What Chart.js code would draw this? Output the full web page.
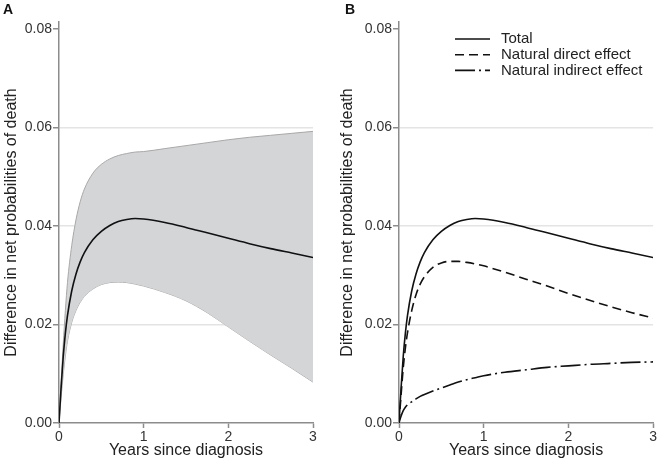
<!DOCTYPE html>
<html>
<head>
<meta charset="utf-8">
<title>Net probabilities of death</title>
<script src="https://cdn.jsdelivr.net/npm/chart.js@4.4.0/dist/chart.umd.min.js"></script>
<style>
	body { margin: 0; background: #fff; }
	#wrap { position: relative; width: 658px; height: 462px; overflow: hidden; }
	.panel { position: absolute; top: 0; width: 329px; height: 462px; }
	.lbl { position: absolute; top: 1px; font: bold 14px 'Liberation Sans', Arial, sans-serif; color: #111; }
</style>
</head>
<body>
<div id="wrap">
	<div class="panel" style="left:0"><canvas id="chartA" width="329" height="462"></canvas></div>
	<div class="panel" style="left:329px"><canvas id="chartB" width="329" height="462"></canvas></div>
	<div class="lbl" style="left:3px">A</div>
	<div class="lbl" style="left:345px">B</div>
</div>
<script>
// values
var years    = [0, 0.025, 0.05, 0.075, 0.1, 0.15, 0.2, 0.25, 0.3, 0.4, 0.5, 0.6, 0.7, 0.8, 0.9, 1.0, 1.25, 1.5, 1.75, 2.0, 2.25, 2.5, 2.75, 3.0];
var total    = [0, 0.0072, 0.0135, 0.0182, 0.0218, 0.0268, 0.0302, 0.0327, 0.0346, 0.0372, 0.0389, 0.0401, 0.0409, 0.0413, 0.0415, 0.0414, 0.0407, 0.0397, 0.0386, 0.0375, 0.0364, 0.0354, 0.0345, 0.0336];
var direct   = [0, 0.0058, 0.0112, 0.0152, 0.0183, 0.0228, 0.0260, 0.0282, 0.0297, 0.0316, 0.0325, 0.0328, 0.0328, 0.0326, 0.0323, 0.0319, 0.0306, 0.0292, 0.0278, 0.0263, 0.0249, 0.0236, 0.0224, 0.0213];
var indirect = [0, 0.0014, 0.0025, 0.0032, 0.0037, 0.0043, 0.0049, 0.0054, 0.0058, 0.0065, 0.0071, 0.0077, 0.0083, 0.0088, 0.0092, 0.0096, 0.0103, 0.0108, 0.0113, 0.0116, 0.0119, 0.0121, 0.0123, 0.0124];
var ciLower  = [0, 0.0052, 0.0098, 0.0136, 0.0166, 0.0204, 0.0228, 0.0245, 0.0257, 0.0272, 0.0281, 0.0285, 0.0286, 0.0285, 0.0282, 0.0278, 0.0265, 0.0248, 0.0224, 0.0195, 0.0166, 0.0138, 0.0111, 0.0083];
var ciUpper  = [0, 0.0085, 0.0160, 0.0228, 0.0285, 0.0360, 0.0412, 0.0449, 0.0475, 0.0507, 0.0525, 0.0536, 0.0543, 0.0547, 0.0550, 0.0551, 0.0557, 0.0563, 0.0569, 0.0575, 0.0580, 0.0584, 0.0588, 0.0592];

var yTicks = [0, 0.02, 0.04, 0.06, 0.08];
var xTicks = [0, 1, 2, 3];
var seriesLabels = ['Total', 'Natural direct effect', 'Natural indirect effect'];
var yTitle = 'Difference in net probabilities of death';
var xTitle = 'Years since diagnosis';

Chart.defaults.font.family = "'Liberation Sans', Arial, sans-serif";
Chart.defaults.animation = false;

var axisGray = '#8c8c8c';

function pts(vals){
	return years.map(function(t, i){ return {x: t, y: vals[i]}; });
}

function makeScales(yWidth){
	return {
		x: {
			type: 'linear', min: 0, max: 3,
			afterBuildTicks: function(s){ s.ticks = xTicks.map(function(v){ return {value: v}; }); },
			afterFit: function(s){ s.height = 39; },
			grid: { drawOnChartArea: false, drawTicks: true, tickLength: 5, tickColor: axisGray, tickWidth: 1.5 },
			border: { display: true, color: axisGray, width: 1.5 },
			ticks: { padding: 1, color: '#333', font: { size: 14 }, maxRotation: 0 },
			title: { display: true, text: xTitle, color: '#222', font: { size: 16 }, padding: { top: 0, bottom: 2 } }
		},
		y: {
			type: 'linear', min: 0, max: 0.0814,
			afterBuildTicks: function(s){ s.ticks = yTicks.map(function(v){ return {value: v}; }); },
			afterFit: function(s){ s.width = yWidth; },
			grid: {
				color: function(c){
					var v = c.tick ? c.tick.value : 0;
					return (v === 0 || v === yTicks[yTicks.length - 1]) ? 'rgba(0,0,0,0)' : '#e4e4e4';
				},
				lineWidth: 1.5, tickLength: 6, tickColor: axisGray, tickWidth: 1.5
			},
			border: { display: true, color: axisGray, width: 1.5 },
			ticks: { padding: 1, color: '#333', font: { size: 14 }, callback: function(v){ return v.toFixed(2); } },
			title: { display: true, text: yTitle, color: '#222', font: { size: 16 }, padding: { top: 2, bottom: 0 } }
		}
	};
}

// legend drawn by hand (line sample + label)
var lineLegend = {
	id: 'lineLegend',
	afterDraw: function(chart, args, opts){
		if(!opts || !opts.show) return;
		var ctx = chart.ctx;
		ctx.save();
		ctx.font = "15px 'Liberation Sans', Arial, sans-serif";
		ctx.textBaseline = 'middle';
		chart.data.datasets.forEach(function(ds, i){
			var y = opts.top + i * opts.rowGap;
			ctx.strokeStyle = ds.borderColor;
			ctx.lineWidth = ds.borderWidth;
			ctx.setLineDash(ds.borderDash || []);
			ctx.beginPath();
			ctx.moveTo(opts.left, y);
			ctx.lineTo(opts.left + opts.lineLen, y);
			ctx.stroke();
			ctx.setLineDash([]);
			ctx.fillStyle = '#222';
			ctx.fillText(ds.label, opts.left + opts.lineLen + 11, y);
		});
		ctx.restore();
	}
};

// Panel A: total with confidence band
new Chart(document.getElementById('chartA').getContext('2d'), {
	type: 'line',
	data: {
		datasets: [{
			label: 'Total',
			data: pts(total),
			borderColor: '#111', borderWidth: 1.6,
			pointRadius: 0, cubicInterpolationMode: 'monotone', fill: false
		}, {
			label: 'Upper',
			data: pts(ciUpper),
			borderColor: '#a8a8a8', borderWidth: 1,
			backgroundColor: 'rgb(212,213,215)',
			pointRadius: 0, cubicInterpolationMode: 'monotone', fill: '+1'
		}, {
			label: 'Lower',
			data: pts(ciLower),
			borderColor: '#a8a8a8', borderWidth: 1,
			pointRadius: 0, cubicInterpolationMode: 'monotone', fill: false
		}]
	},
	options: {
		responsive: false,
		layout: { padding: { left: 0, right: 16, top: 22, bottom: 0 } },
		plugins: { legend: { display: false }, tooltip: { enabled: false } },
		scales: makeScales(59)
	}
});

// Panel B: decomposition
new Chart(document.getElementById('chartB').getContext('2d'), {
	type: 'line',
	data: {
		datasets: [{
			label: seriesLabels[0],
			data: pts(total),
			borderColor: '#111', borderWidth: 1.6, borderDash: [],
			pointRadius: 0, cubicInterpolationMode: 'monotone', fill: false
		}, {
			label: seriesLabels[1],
			data: pts(direct),
			borderColor: '#111', borderWidth: 1.6, borderDash: [9, 5],
			pointRadius: 0, cubicInterpolationMode: 'monotone', fill: false
		}, {
			label: seriesLabels[2],
			data: pts(indirect),
			borderColor: '#111', borderWidth: 1.6, borderDash: [20, 4, 2, 4],
			pointRadius: 0, cubicInterpolationMode: 'monotone', fill: false
		}]
	},
	options: {
		responsive: false,
		layout: { padding: { left: 7, right: 4, top: 22, bottom: 0 } },
		plugins: {
			legend: { display: false }, tooltip: { enabled: false },
			lineLegend: { show: true, left: 126, lineLen: 35, top: 39, rowGap: 15.7 }
		},
		scales: makeScales(63)
	},
	plugins: [lineLegend]
});
</script>
</body>
</html>
